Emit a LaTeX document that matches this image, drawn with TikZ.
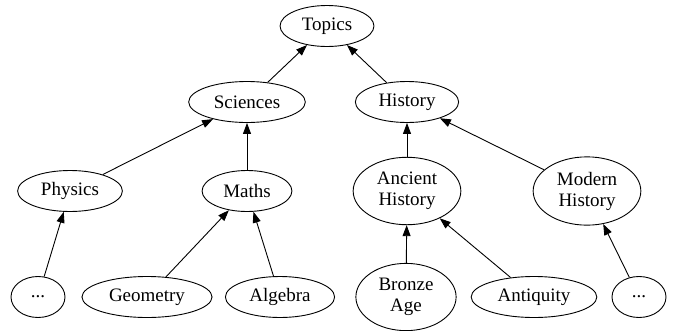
\documentclass[tikz,border=0pt]{standalone}
\usepackage{fontspec}
\setmainfont{Liberation Serif}
\usetikzlibrary{shapes.geometric,arrows.meta}
\newcommand{\topicfont}{\fontsize{19}{21}\selectfont}

\begin{document}
\begin{tikzpicture}[x=1pt,y=-1pt,
	topic/.style={ellipse, draw, line width=0.9pt, font=\topicfont, align=center,
		inner xsep=8pt, inner ysep=5pt, minimum width=54pt, minimum height=41pt},
	up/.style={draw, line width=0.9pt, -{Triangle[length=11pt,width=8pt]}}]
	\useasboundingbox (0,0) rectangle (673,330);

	\node[topic] (topics) at (327,26) {Topics};
	\node[topic] (sciences) at (247,102) {Sciences};
	\node[topic] (history) at (407,102) {History};
	\node[topic] (physics) at (70,191) {Physics};
	\node[topic] (maths) at (247,191) {Maths};
	\node[topic] (ancient) at (407,191) {Ancient\\History};
	\node[topic] (modern) at (587,191) {Modern\\History};
	\node[topic] (physicsmore) at (38,297) {...};
	\node[topic] (geometry) at (147,297) {Geometry};
	\node[topic] (algebra) at (280,297) {Algebra};
	\node[topic] (bronze) at (406,297) {Bronze\\Age};
	\node[topic] (antiquity) at (534,297) {Antiquity};
	\node[topic] (modernmore) at (639,297) {...};

	\draw[up] (sciences) -- (topics);
	\draw[up] (history) -- (topics);
	\draw[up] (physics) -- (sciences);
	\draw[up] (maths) -- (sciences);
	\draw[up] (ancient) -- (history);
	\draw[up] (modern) -- (history);
	\draw[up] (physicsmore) -- (physics);
	\draw[up] (geometry) -- (maths);
	\draw[up] (algebra) -- (maths);
	\draw[up] (bronze) -- (ancient);
	\draw[up] (antiquity) -- (ancient);
	\draw[up] (modernmore) -- (modern);
\end{tikzpicture}
\end{document}
